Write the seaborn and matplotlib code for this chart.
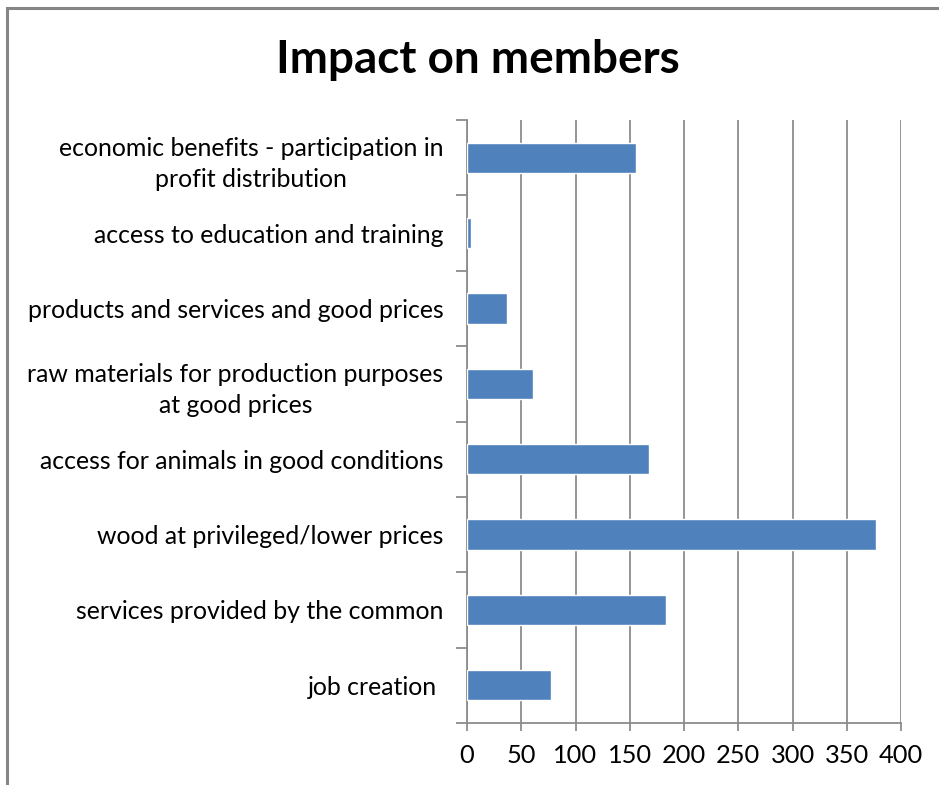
import matplotlib
matplotlib.use("Agg")
import matplotlib.pyplot as plt
import seaborn as sns
import pandas as pd
import numpy as np
from matplotlib.patches import Rectangle

categories = [
    "economic benefits - participation in\nprofit distribution",
    "access to education and training",
    "products and services and good prices",
    "raw materials for production purposes\nat good prices",
    "access for animals in good conditions",
    "wood at privileged/lower prices",
    "services provided by the common",
    "job creation ",
]
values = [156, 4, 37, 61, 168, 377, 183, 77]
x_ticks = [0, 50, 100, 150, 200, 250, 300, 350, 400]

sns.set_style("white")
plt.rcParams['font.family'] = ['Lato', 'DejaVu Sans']
plt.rcParams['text.color'] = 'black'

df = pd.DataFrame({"category": categories, "value": values})

fig = plt.figure(figsize=(9.39, 7.85), dpi=100)
ax = fig.add_axes([467/939, 1-723/785, (901-467)/939, (723-120)/785])

sns.barplot(data=df, x="value", y="category", orient="h", color="#4F81BD",
            saturation=1, width=0.4, ax=ax, zorder=3)

grid_c = "#8C8C8C"
ax.set_xlim(0, 400)
ax.set_ylim(len(categories) - 0.5, -0.5)
ax.set_xticks(x_ticks)
ax.set_xticklabels([str(t) for t in x_ticks])
ax.xaxis.grid(True, color=grid_c, linewidth=1.3, zorder=0)
ax.yaxis.grid(False)
ax.set_axisbelow(True)
ax.set_xlabel("")
ax.set_ylabel("")

for s in ["top", "right"]:
    ax.spines[s].set_visible(False)
for s in ["left", "bottom"]:
    ax.spines[s].set_color(grid_c)
    ax.spines[s].set_linewidth(1.3)

ax.set_yticks(np.arange(len(categories)))
ax.set_yticklabels(categories, multialignment="center", linespacing=1.45)
ax.set_yticks(np.arange(len(categories) + 1) - 0.5, minor=True)
ax.tick_params(axis="y", which="major", left=True, length=0, pad=17, labelsize=17.9,
               labelcolor="black")
ax.tick_params(axis="y", which="minor", left=True, length=8, width=1.3, color=grid_c,
               direction="out")
ax.tick_params(axis="x", which="major", bottom=True, length=6, width=1.3, color=grid_c,
               direction="out", pad=9, labelsize=18.3, labelcolor="black")

fig.text(478/939, 1-60/785, "Impact on members", ha="center", va="center",
         fontsize=33, fontweight="bold", color="black")

fig.patches.append(Rectangle((7/939, -0.1), 1.2, 1 - 8/785 + 0.1, transform=fig.transFigure,
                             fill=False, edgecolor="#868686", linewidth=2.2))

fig.savefig("out.png", dpi=100)
